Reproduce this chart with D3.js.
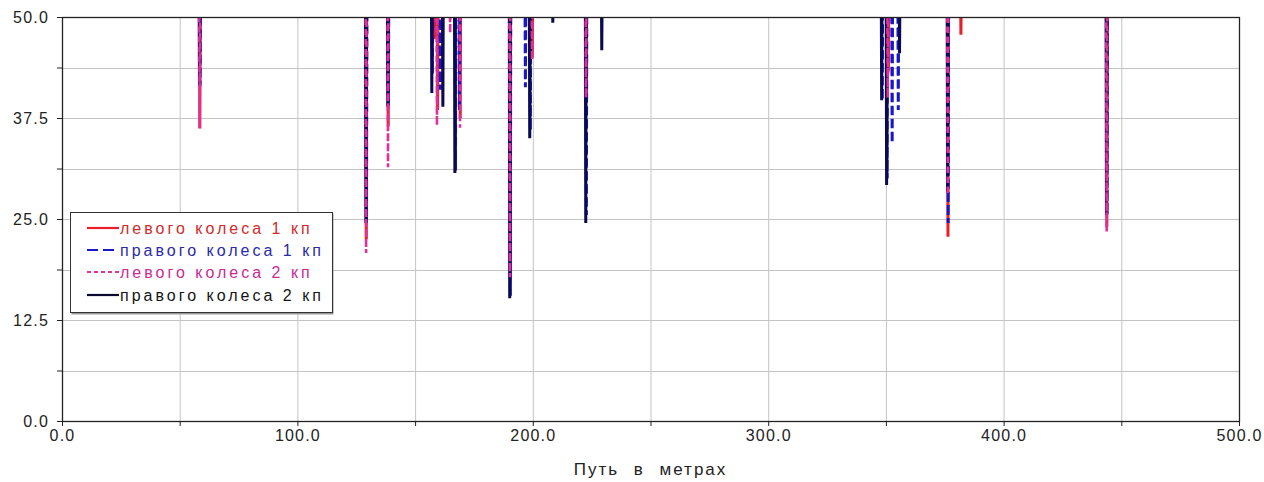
<!DOCTYPE html>
<html><head><meta charset="utf-8">
<script src="https://cdn.jsdelivr.net/npm/d3@7"></script>
<style>
html,body{margin:0;padding:0;background:#fff;}
svg{display:block;}
text{font-family:"Liberation Sans",Arial,sans-serif;}
</style></head>
<body>
<svg id="chart" width="1264" height="482"></svg>
<script>
// ---- data (distance in metres, value); values above 50 are off the chart ----
const seriesNames = ["левого колеса 1 кп","правого колеса 1 кп","левого колеса 2 кп","правого колеса 2 кп"];
const leftWheel1 = [
  [58.2,55],[58.4,36.2],[58.6,55],
  [128.9,55],[129.1,22.5],[129.3,55],
  [138.2,55],[138.4,36.5],[138.6,55],
  [158.0,55],[158.3,47.5],[158.9,47.6],[159.1,55],
  [159.2,55],[159.4,38.5],[159.6,55],
  [168.8,55],[169.0,37.5],[169.2,55],
  [190.0,55],[190.2,17.5],[190.4,55],
  [199.4,55],[199.6,45.0],[199.8,55],
  [222.3,55],[222.5,40.0],[222.7,55],
  [350.1,55],[350.4,42.8],[350.9,43.5],[351.1,55],
  [376.0,55],[376.2,22.8],[376.4,55],
  [381.5,55],[381.7,47.8],[381.9,55],
  [443.5,55],[443.7,24.0],[443.9,55]
];
const rightWheel1 = [
  [58.2,55],[58.4,41.5],[58.6,55],
  [128.9,55],[129.1,24.5],[129.3,55],
  [138.2,55],[138.4,39.0],[138.6,55],
  [156.9,55],[157.1,43.0],[157.3,55],
  [160.3,55],[160.5,41.0],[160.7,55],
  [166.7,55],[166.9,31.0],[167.1,55],
  [168.4,55],[168.6,38.5],[168.8,55],
  [190.0,55],[190.2,15.5],[190.4,55],
  [196.4,55],[196.6,41.3],[196.8,55],
  [198.5,55],[198.7,36.0],[198.9,55],
  [222.3,55],[222.5,25.5],[222.7,55],
  [348.0,55],[348.2,39.7],[348.4,55],
  [350.1,55],[350.3,30.0],[350.5,55],
  [352.2,55],[352.4,34.4],[352.6,55],
  [354.8,55],[355.0,38.5],[355.2,55],
  [376.0,55],[376.2,24.5],[376.4,55],
  [443.5,55],[443.7,25.5],[443.9,55]
];
const leftWheel2 = [
  [58.2,55],[58.4,36.3],[58.6,55],
  [128.9,55],[129.1,20.8],[129.3,55],
  [138.2,55],[138.4,31.4],[138.6,55],
  [159.0,55],[159.2,36.6],[159.4,55],
  [164.6,55],[164.8,48.0],[165.0,55],
  [168.8,55],[169.0,36.3],[169.2,55],
  [190.0,55],[190.2,17.8],[190.4,55],
  [199.4,55],[199.6,44.7],[199.8,55],
  [222.3,55],[222.5,40.0],[222.7,55],
  [350.5,55],[350.7,40.0],[350.9,55],
  [376.0,55],[376.2,28.0],[376.4,55],
  [443.5,55],[443.7,23.4],[443.9,55]
];
const rightWheel2 = [
  [58.2,55],[58.4,41.6],[58.6,55],
  [128.9,55],[129.1,24.5],[129.3,55],
  [138.2,55],[138.4,38.9],[138.6,55],
  [156.9,55],[157.1,40.6],[157.3,55],
  [161.6,55],[161.8,38.9],[162.0,55],
  [166.7,55],[166.9,30.7],[167.1,55],
  [190.0,55],[190.2,15.2],[190.4,55],
  [198.5,55],[198.7,35.0],[198.9,55],
  [208.3,55],[208.5,49.3],[208.7,55],
  [222.3,55],[222.5,24.5],[222.7,55],
  [229.1,55],[229.3,45.9],[229.5,55],
  [348.0,55],[348.2,39.7],[348.4,55],
  [350.1,55],[350.3,29.2],[350.5,55],
  [355.6,55],[355.8,45.5],[356.0,55],
  [376.0,55],[376.2,28.3],[376.4,55],
  [443.5,55],[443.7,25.5],[443.9,55]
];
const xTickValues = [0,50,100,150,200,250,300,350,400,450,500];
const xLabelValues = [0,100,200,300,400,500];
const yTickValues = [0,6.25,12.5,18.75,25,31.25,37.5,43.75,50];
const yLabelValues = [0,12.5,25,37.5,50];
const xTitle = "Путь в метрах";

// ---- layout ----
const svg = d3.select("#chart");
const W = 1264, H = 482;
const m = {left:62, top:17, right:25, bottom:61};
const pw = W - m.left - m.right, ph = H - m.top - m.bottom;
const x = d3.scaleLinear().domain([0,500]).range([m.left, m.left+pw]);
const y = d3.scaleLinear().domain([0,50]).range([m.top+ph, m.top]);

// grid
const grid = svg.append("g");
grid.selectAll("line.vx").data(xTickValues.slice(1,-1)).join("line")
  .attr("x1",d=>x(d)+0.5).attr("x2",d=>x(d)+0.5).attr("y1",m.top).attr("y2",m.top+ph)
  .attr("stroke","#c4c4c4").attr("stroke-width",1);
grid.selectAll("line.hy").data(yTickValues.slice(1,-1)).join("line")
  .attr("y1",d=>Math.round(y(d))+0.5).attr("y2",d=>Math.round(y(d))+0.5).attr("x1",m.left).attr("x2",m.left+pw)
  .attr("stroke","#c4c4c4").attr("stroke-width",1);

// clip
svg.append("clipPath").attr("id","clip").append("rect")
  .attr("x",m.left).attr("y",m.top).attr("width",pw).attr("height",ph);

const line = d3.line().x(d=>x(d[0])).y(d=>y(d[1]));
const styles = [
  {data:leftWheel1, color:"#e8202a", dash:null, w:3, dx:0.4},
  {data:rightWheel1, color:"#1818c8", dash:"9,4", w:3, dx:0.6},
  {data:rightWheel2, color:"#0a0a50", dash:null, w:3, dx:0},
  {data:leftWheel2, color:"#e0309a", dash:"6,4", w:2.6, dx:0.2}
];
const plot = svg.append("g").attr("clip-path","url(#clip)");
styles.forEach(s=>{
  plot.append("path").datum(s.data).attr("d",line)
    .attr("transform",`translate(${s.dx},0)`)
    .attr("fill","none").attr("stroke",s.color).attr("stroke-width",s.w)
    .attr("stroke-dasharray",s.dash);
});

// frame
svg.append("rect").attr("x",m.left+0.5).attr("y",m.top+0.5).attr("width",pw).attr("height",ph)
  .attr("fill","none").attr("stroke","#222").attr("stroke-width",1.3);

// axes
const fmt = d3.format(".1f");
const xAxis = d3.axisBottom(x).tickValues(xTickValues).tickSize(5).tickPadding(4)
  .tickFormat(d=>xLabelValues.includes(d)?fmt(d):"");
const gx = svg.append("g").attr("transform",`translate(0,${m.top+ph})`).call(xAxis);
gx.select(".domain").attr("stroke","#222");
gx.selectAll(".tick line").attr("stroke","#222");
gx.selectAll("text").attr("fill","#222").style("font-size","16px").style("letter-spacing","1.2px");

const yAxis = d3.axisLeft(y).tickValues(yTickValues).tickSize(5).tickPadding(8)
  .tickFormat(d=>yLabelValues.includes(d)?fmt(d):"");
const gy = svg.append("g").attr("transform",`translate(${m.left},0)`).call(yAxis);
gy.select(".domain").attr("stroke","#222");
gy.selectAll(".tick line").attr("stroke","#222");
gy.selectAll("text").attr("fill","#222").style("font-size","16px").style("letter-spacing","1.2px");

svg.append("text").attr("x",x(250)).attr("y",475).attr("text-anchor","middle")
  .style("font-size","17px").style("letter-spacing","2px").style("word-spacing","8px")
  .attr("fill","#222").text(xTitle);

// legend
const lg = svg.append("g").attr("transform","translate(70,212)");
lg.append("rect").attr("x",1.5).attr("y",1.5).attr("width",262).attr("height",101).attr("fill","#999");
lg.append("rect").attr("x",0.5).attr("y",0.5).attr("width",262).attr("height",100)
  .attr("fill","#fff").attr("stroke","#333").attr("stroke-width",1);
const legendColors = [
  {line:"#e8202a", text:"#d42a2a", dash:null},
  {line:"#1818c8", text:"#2a2aa8", dash:"11,5"},
  {line:"#e0309a", text:"#cc2a96", dash:"4,3"},
  {line:"#0a0a30", text:"#151515", dash:null}
];
const rowsY = [20, 42, 64, 87];
seriesNames.forEach((n,i)=>{
  lg.append("line").attr("x1",17).attr("x2",49).attr("y1",rowsY[i]-4).attr("y2",rowsY[i]-4)
    .attr("stroke",legendColors[i].line).attr("stroke-width",2.2)
    .attr("stroke-dasharray",legendColors[i].dash);
  lg.append("text").attr("x",50).attr("y",rowsY[i]+2).text(n)
    .attr("fill",legendColors[i].text).style("font-size","16px").style("letter-spacing","3px");
});
</script>
</body></html>
